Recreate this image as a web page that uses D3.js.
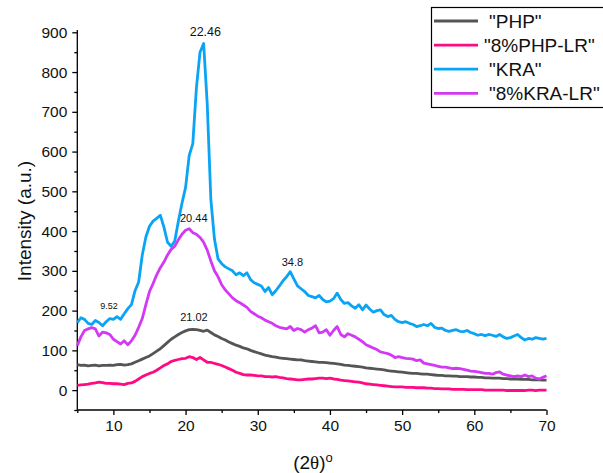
<!DOCTYPE html>
<html><head><meta charset="utf-8">
<script src="https://cdn.jsdelivr.net/npm/d3@7"></script>
<style>body{margin:0;background:#fff}svg{display:block}text{font-family:"Liberation Sans",Arial,sans-serif;fill:#111}</style>
</head><body><svg id="c" width="603" height="473"></svg>
<script>
const angleStart = 5, angleStep = 0.5;
const seriesNames = ['"PHP"', '"8%PHP-LR"', '"KRA"', '"8%KRA-LR"'];
const seriesColors = ["#555555", "#ff0a84", "#0aa4f5", "#d338f5"];
const php = [64,62,63,61,62,63,61,62,62,63,62,64,65,63,64,66,70,74,78,82,86,92,98,104,112,120,128,134,140,145,149,152,153,152,150,148,151,145,139,135,130,126,121,117,113,110,106,104,100,97,94,91,88,86,84,83,81,80,79,78,77,76,76,74,73,72,71,70,70,69,68,67,66,65,63,62,61,60,59,58,56,55,54,53,52,51,49,48,47,46,45,44,43,42,42,41,40,40,39,38,37,37,36,36,35,35,34,34,34,33,33,32,32,31,31,30,30,30,29,29,28,28,28,27,27,27,26,26,26,25,25];
const phpLR = [12,13,14,15,17,18,20,19,17,17,16,16,15,14,17,18,22,28,34,38,42,45,50,56,62,66,72,75,77,79,80,84,82,77,82,76,70,70,67,65,62,58,54,50,45,42,39,38,38,37,36,36,34,34,33,34,32,31,29,28,27,26,26,27,28,28,29,30,30,29,30,28,27,25,24,23,22,21,20,18,16,15,14,13,12,11,10,9,8,8,8,7,7,7,6,6,6,5,5,4,4,3,3,3,2,2,2,2,1,1,1,1,1,0,0,0,0,0,0,-1,-1,-1,-1,-1,-1,0,0,-1,0,0,0];
const kra = [170,182,178,168,165,175,170,162,172,180,178,185,178,192,205,215,250,272,340,385,412,425,432,440,410,372,362,375,425,470,510,590,620,760,850,872,720,480,380,330,318,310,305,300,290,295,288,295,278,270,266,262,248,258,240,250,262,275,285,298,280,262,255,248,238,235,232,238,228,222,224,230,244,228,218,220,212,206,215,202,214,204,196,200,202,190,185,188,178,172,170,172,168,165,160,162,165,162,168,158,155,156,150,148,150,152,148,147,150,145,142,138,140,137,140,138,135,140,134,130,132,136,140,132,126,130,128,132,130,128,130];
const kraLR = [112,134,150,154,157,154,136,146,144,140,128,122,116,124,114,124,138,158,180,215,248,268,290,308,322,340,354,362,378,392,402,406,396,392,384,372,352,325,300,285,265,252,242,232,225,220,214,208,198,192,186,182,176,172,168,162,158,156,154,160,150,155,152,146,152,156,162,144,146,152,138,150,160,140,134,142,138,134,128,122,114,110,106,102,96,94,92,88,82,84,82,80,79,78,74,76,68,66,64,62,60,58,58,56,54,55,54,52,50,48,47,46,44,42,42,40,44,46,40,38,36,34,36,34,38,34,36,30,28,32,36];
const xTicks = [10,20,30,40,50,60,70];
const yTicks = [0,100,200,300,400,500,600,700,800,900];
const peakText = ["22.46", "20.44", "21.02", "9.52", "34.8"];
const peakX = [22.46, 20.44, 21.02, 9.52, 34.8];
const peakY = [872, 406, 153, 180, 298];

const peakStyle = [{s:12.5,dx:2,dy:-7},{s:11,dx:5,dy:-7},{s:11,dx:1,dy:-8},{s:9,dx:-1,dy:-10},{s:11,dx:0,dy:-6}];

const svg = d3.select("#c");
const x = d3.scaleLinear().domain([5,70]).range([77.3,546.5]);
const y = d3.scaleLinear().domain([-50,900]).range([410,32.3]);
const data = [php, phpLR, kra, kraLR];

// axes
const xAx = svg.append("g").attr("transform","translate(0,410)");
xAx.call(d3.axisBottom(x).tickValues(xTicks).tickSize(5).tickSizeOuter(0).tickPadding(5).tickFormat(d3.format("d")));
const xMinor = svg.append("g").attr("transform","translate(0,410)");
xMinor.call(d3.axisBottom(x).tickValues(d3.range(5,71,5).filter(v=>v%10)).tickSize(3).tickSizeOuter(0).tickFormat(""));
xMinor.select(".domain").remove();
const yAx = svg.append("g").attr("transform","translate(77.3,0)");
yAx.call(d3.axisLeft(y).tickValues(yTicks).tickSize(5).tickSizeOuter(0).tickPadding(5));
const yMinor = svg.append("g").attr("transform","translate(77.3,0)");
yMinor.call(d3.axisLeft(y).tickValues(d3.range(-50,901,50).filter(v=>v%100)).tickSize(3).tickSizeOuter(0).tickFormat(""));
yMinor.select(".domain").remove();
svg.selectAll(".domain,.tick line").attr("stroke","#000").attr("stroke-width",1.3);
yAx.select(".domain").attr("d","M0,30V410");
xAx.select(".domain").attr("d","M77.3,0H546.5");
svg.selectAll(".tick text").style("font-size","15.5px").style("font-family","'Liberation Sans',Arial,sans-serif").attr("fill","#111");

// lines
const line = d3.line().x((d,i)=>x(angleStart+i*angleStep)).y(d=>y(d));
data.forEach((arr,k)=>{
  svg.append("path").datum(arr).attr("d",line).attr("fill","none")
    .attr("stroke",seriesColors[k]).attr("stroke-width",2.8).attr("stroke-linejoin","round");
});

// peak labels
peakText.forEach((t,i)=>{
  const st = peakStyle[i];
  svg.append("text").attr("x",x(peakX[i])+st.dx).attr("y",y(peakY[i])+st.dy).attr("text-anchor","middle")
    .style("font-size",st.s+"px").text(t);
});

// axis titles
svg.append("text").attr("transform","translate(31,221) rotate(-90)").attr("text-anchor","middle")
  .style("font-size","19px").text("Intensity (a.u.)");
const xt = svg.append("text").attr("x",313).attr("y",469).attr("text-anchor","middle").style("font-size","19px");
xt.append("tspan").text("(2");
xt.append("tspan").style("font-family","'Liberation Serif','Times New Roman',serif").text("θ");
xt.append("tspan").text(")");
xt.append("tspan").attr("dy",-7).style("font-size","13px").text("o");

// legend
const lg = svg.append("g");
lg.append("rect").attr("x",431.5).attr("y",7.5).attr("width",180).attr("height",100).attr("fill","#fff").attr("stroke","#000").attr("stroke-width",1.2);
seriesNames.forEach((n,i)=>{
  const ly = 21 + i*24.1;
  lg.append("line").attr("x1",434).attr("x2",478).attr("y1",ly).attr("y2",ly).attr("stroke",seriesColors[i]).attr("stroke-width",2.8);
  lg.append("text").attr("x", (i===1? 484 : 489)).attr("y",ly+6.8).style("font-size","19px").text(n);
});
</script></body></html>
